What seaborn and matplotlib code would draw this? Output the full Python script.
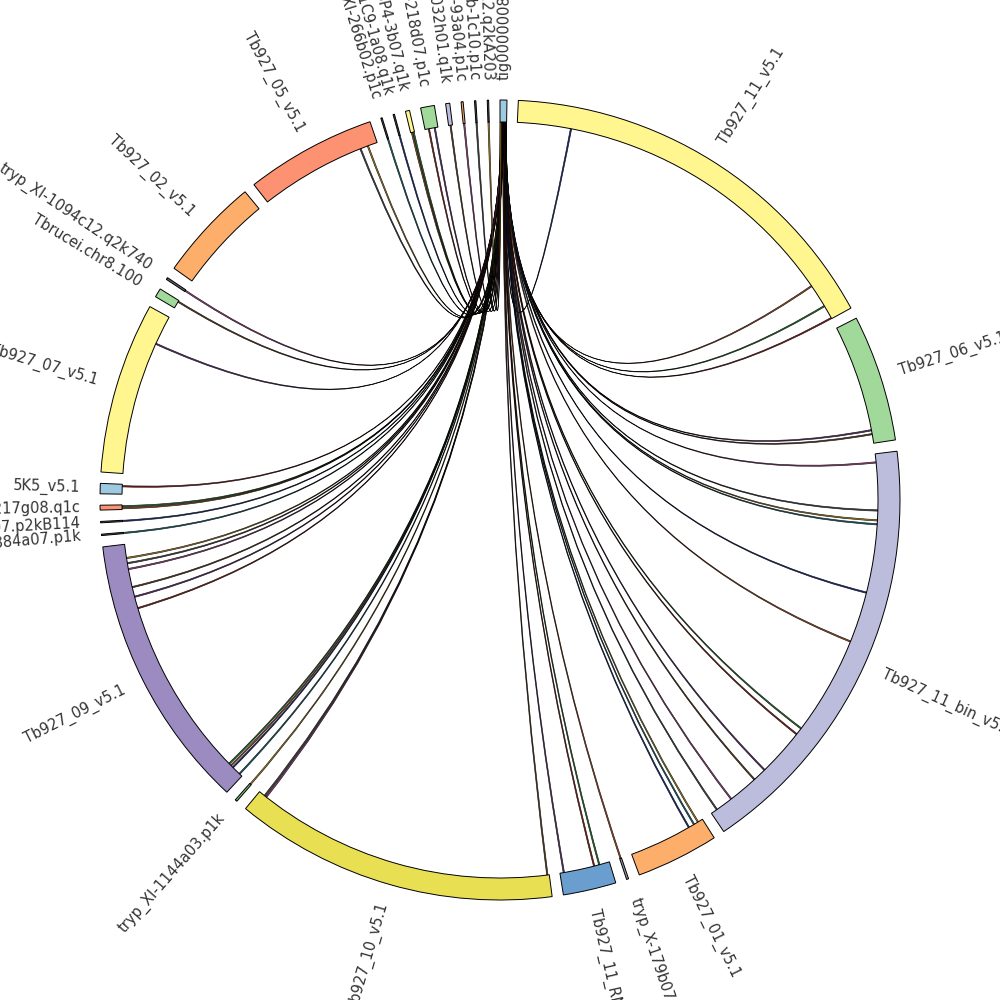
"""
Chord (circos-style) plot: links from contig tig00000080 to the
T. brucei chromosomes and BAC ends.
"""

import matplotlib
matplotlib.use("Agg")
import matplotlib.pyplot as plt
import numpy as np
import seaborn as sns
from matplotlib.patches import Wedge, PathPatch
from matplotlib.path import Path

sns.set_theme(style="white")
plt.rcParams["font.family"] = ["DejaVu Sans"]

# ideogram segments, clockwise from the top (size in plot units)
seg_names = [
    "tig00000080", "Tb927_11_v5.1", "Tb927_06_v5.1", "Tb927_11_bin_v5.1",
    "Tb927_01_v5.1", "tryp_X-179b07.p1k", "Tb927_11_RNA_v5.1", "Tb927_10_v5.1",
    "tryp_XI-1144a03.p1k", "Tb927_09_v5.1", "tryp_XI-884a07.p1k",
    "tryp_X-53d07.p2kB114", "tryp_IXb-217g08.q1c", "5K5_v5.1", "Tb927_07_v5.1",
    "Tbrucei.chr8.100", "tryp_XI-1094c12.q2k740", "Tb927_02_v5.1",
    "Tb927_05_v5.1", "tryp_XI-266b02.p1c", "tryp_IXB1C9-1a08.q1k",
    "tryp_IX26P4-3b07.q1k", "tryp_IXb-218d07.p1c", "tryp_XI-1032h01.q1k",
    "tryp_IXb-93a04.p1c", "tryp_IXb-1c10.p1c", "tryp_XI-1072h12.q2kA203",
]
seg_sizes = [
    1.0, 58.7, 18.4, 63.0, 12.0, 0.3, 7.7, 47.0, 0.3, 40.2, 0.2, 0.2, 0.7,
    1.5, 24.9, 1.3, 0.3, 15.0, 19.0, 0.2, 0.2, 0.6, 2.0, 0.6, 0.3, 0.2, 0.2,
]
seg_colors = [
    "#9ecae1", "#fff68f", "#a1d99b", "#bcbddc", "#fdae6b", "#969696",
    "#6a9ecf", "#e8e052", "#74c476", "#9b8bc1", "#636363", "#636363",
    "#fc9272", "#9ecae1", "#fff68f", "#a1d99b", "#636363", "#fdae6b",
    "#fc9272", "#636363", "#636363", "#fff68f", "#a1d99b", "#bcbddc",
    "#fdae6b", "#636363", "#636363",
]

# links: target segment, position on target, position on tig00000080
link_target = (
    ["Tb927_11_v5.1"] * 4
    + ["Tb927_06_v5.1"] * 2
    + ["Tb927_11_bin_v5.1"] * 12
    + ["Tb927_01_v5.1"] * 3
    + ["tryp_X-179b07.p1k"]
    + ["Tb927_11_RNA_v5.1"] * 3
    + ["Tb927_10_v5.1"] * 3
    + ["tryp_XI-1144a03.p1k"]
    + ["Tb927_09_v5.1"] * 10
    + ["tryp_XI-884a07.p1k", "tryp_X-53d07.p2kB114"]
    + ["tryp_IXb-217g08.q1c"] * 2
    + ["5K5_v5.1", "Tb927_07_v5.1", "Tbrucei.chr8.100", "tryp_XI-1094c12.q2k740"]
    + ["Tb927_05_v5.1"] * 2
    + ["tryp_XI-266b02.p1c", "tryp_IXB1C9-1a08.q1k"]
    + ["tryp_IX26P4-3b07.q1k"] * 2
    + ["tryp_IXb-218d07.p1c"] * 2
    + ["tryp_XI-1032h01.q1k", "tryp_IXb-93a04.p1c", "tryp_IXb-1c10.p1c",
       "tryp_XI-1072h12.q2kA203"]
)
link_offset = [
    8.1, 52.8, 56.4, 58.5,
    16.3, 16.9,
    1.2, 8.5, 10.0, 10.6, 21.1, 28.9, 44.1, 45.2, 52.5, 54.6, 59.2, 61.9,
    0.7, 1.4, 2.3,
    0.05,
    1.5, 2.3, 7.0,
    0.2, 45.6, 45.9,
    0.05,
    0.4, 1.8, 2.2, 2.6, 30.2, 32.0, 33.5, 36.3, 37.2, 38.0,
    0.0, 0.0,
    0.1, 0.4,
    1.1, 20.3, 1.0, 0.05,
    16.2, 17.4,
    0.0, 0.0,
    0.1, 0.35,
    0.5, 1.4,
    0.2, 0.05, 0.0, 0.0,
]
link_tig = [
    0.79, 0.77, 0.76, 0.75,
    0.73, 0.72,
    0.70, 0.69, 0.68, 0.67, 0.65, 0.64, 0.62, 0.61, 0.60, 0.58, 0.57, 0.56,
    0.54, 0.53, 0.52,
    0.50,
    0.49, 0.48, 0.47,
    0.45, 0.44, 0.43,
    0.41,
    0.40, 0.39, 0.38, 0.37, 0.35, 0.34, 0.33, 0.31, 0.30, 0.29,
    0.27, 0.26,
    0.25, 0.24,
    0.22, 0.21, 0.19, 0.18,
    0.16, 0.15,
    0.13, 0.12,
    0.10, 0.09,
    0.07, 0.06,
    0.04, 0.03, 0.02, 0.01,
]

R_OUT, R_IN = 400, 378
LABEL_R = 420
LINK_SPAN = 0.2
HUB = "tig00000080"

gap = (360.0 - sum(seg_sizes)) / len(seg_names)
seg_start = {}
pos = 0.0
for name, size in zip(seg_names, seg_sizes):
    seg_start[name] = pos
    pos += size + gap


def polar(theta, r):
    phi = np.deg2rad(90.0 - theta)
    return r * np.cos(phi), r * np.sin(phi)


fig = plt.figure(figsize=(10, 10), dpi=100)
ax = fig.add_axes([0, 0, 1, 1])
ax.set_xlim(-500, 500)
ax.set_ylim(-500, 500)
ax.set_aspect("equal")
ax.axis("off")

# links
pal = sns.color_palette("dark", 10)
for i, (tgt, off, tpos) in enumerate(zip(link_target, link_offset, link_tig)):
    a1 = seg_start[HUB] + tpos
    a2 = a1 + LINK_SPAN
    b1 = seg_start[tgt] + off
    b2 = b1 + LINK_SPAN
    verts = [polar(a1, R_IN), polar(a2, R_IN), (0, 0), polar(b1, R_IN),
             polar(b2, R_IN), (0, 0), polar(a1, R_IN), polar(a1, R_IN)]
    codes = [Path.MOVETO, Path.LINETO, Path.CURVE3, Path.CURVE3,
             Path.LINETO, Path.CURVE3, Path.CURVE3, Path.CLOSEPOLY]
    ax.add_patch(PathPatch(Path(verts, codes), facecolor=pal[i % len(pal)],
                           edgecolor="black", lw=0.45, alpha=0.9, zorder=2))

# ideogram and labels
for name, size, color in zip(seg_names, seg_sizes, seg_colors):
    start = seg_start[name]
    end = start + size
    ax.add_patch(Wedge((0, 0), R_OUT, 90 - end, 90 - start, width=R_OUT - R_IN,
                       facecolor=color, edgecolor="black", lw=0.7, zorder=3))
    mid = start + size / 2
    phi = (90.0 - mid + 180.0) % 360.0 - 180.0
    if -90 <= phi <= 90:
        rot, ha = phi, "left"
    else:
        rot, ha = phi + 180 if phi < 0 else phi - 180, "right"
    x, y = polar(mid, LABEL_R)
    ax.text(x, y, name, rotation=rot, rotation_mode="anchor", ha=ha,
            va="center", fontsize=10.5, color="#333333")

fig.savefig("out.png", dpi=100)
plt.close(fig)
